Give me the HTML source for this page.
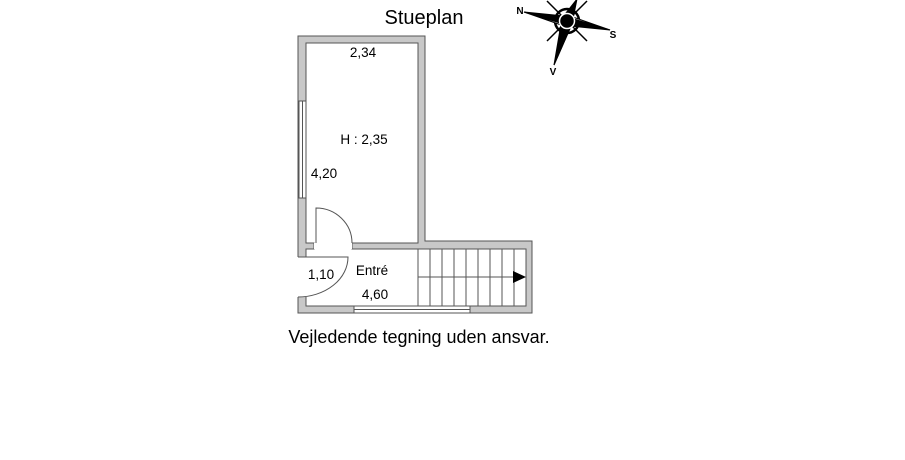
<!DOCTYPE html>
<html><head><meta charset="utf-8"><style>
html,body{margin:0;padding:0;background:#fff;}
svg{display:block;}
text{font-family:"Liberation Sans",Arial,sans-serif;fill:#000;}
</style></head><body>
<svg width="905" height="460" viewBox="0 0 905 460" xmlns="http://www.w3.org/2000/svg">
<text x="424" y="24" font-size="20" text-anchor="middle">Stueplan</text>
<path d="M298,36 H425 V241 H532 V313 H298 Z M306,43 V243 H314 V249 H306 V306 H526 V249 H352 V243 H418 V43 Z" fill="#c8c8c8" fill-rule="evenodd" stroke="#555" stroke-width="1"/>
<rect x="314" y="243" width="38" height="6" fill="#fff"/>
<rect x="297.5" y="257" width="9" height="40" fill="#fff"/>
<rect x="299" y="101" width="7" height="97" fill="#fff" stroke="#555"/>
<line x1="302.5" y1="101" x2="302.5" y2="198" stroke="#555"/>
<rect x="354" y="306" width="116" height="7" fill="#fff" stroke="#555"/>
<line x1="354" y1="309.5" x2="470" y2="309.5" stroke="#555"/>
<path d="M316,243 V208 A36,35 0 0 1 352,243" fill="none" stroke="#555"/>
<path d="M298,257 H348 A50,40 0 0 1 298,297" fill="none" stroke="#555"/>
<g stroke="#555" stroke-width="1">
<line x1="418" y1="249" x2="418" y2="306"/>
<line x1="430" y1="249" x2="430" y2="306"/>
<line x1="442" y1="249" x2="442" y2="306"/>
<line x1="454" y1="249" x2="454" y2="306"/>
<line x1="466" y1="249" x2="466" y2="306"/>
<line x1="478" y1="249" x2="478" y2="306"/>
<line x1="490" y1="249" x2="490" y2="306"/>
<line x1="502" y1="249" x2="502" y2="306"/>
<line x1="514" y1="249" x2="514" y2="306"/>
<line x1="418" y1="277" x2="514" y2="277"/>
</g>
<path d="M513,271 L526,277 L513,283 Z" fill="#000"/>
<g font-size="13.5">
<text x="363" y="57" text-anchor="middle">2,34</text>
<text x="364" y="144" text-anchor="middle">H : 2,35</text>
<text x="324" y="178" text-anchor="middle">4,20</text>
<text x="321" y="279" text-anchor="middle">1,10</text>
<text x="372" y="275" text-anchor="middle">Entré</text>
<text x="375" y="299" text-anchor="middle">4,60</text>
</g>
<text x="419" y="343" font-size="18" text-anchor="middle">Vejledende tegning uden ansvar.</text>
<g transform="translate(567,21)">
<circle r="12" fill="none" stroke="#000" stroke-width="2.5"/>
<g stroke="#000" stroke-width="1.5">
<line x1="-20" y1="-20" x2="20" y2="20"/>
<line x1="20" y1="-20" x2="-20" y2="20"/>
</g>
<path d="M-43,-9 L-3,-5 L3,5 Z" fill="#000" stroke="#000"/>
<path d="M-43,-9 L3,5 L-3,5 Z" fill="#fff" stroke="#000"/>
<path d="M43,9 L3,5 L-3,-5 Z" fill="#000" stroke="#000"/>
<path d="M43,9 L-3,-5 L3,-5 Z" fill="#fff" stroke="#000"/>
<path d="M-13,44 L-5,-3 L5,3 Z" fill="#000" stroke="#000"/>
<path d="M-13,44 L5,3 L3,6 Z" fill="#fff" stroke="#000"/>
<path d="M10,-22 L5,3 L-5,-3 Z" fill="#000" stroke="#000"/>
<circle r="6" fill="#000"/>
<circle r="7.5" fill="none" stroke="#fff" stroke-width="1.5"/>
</g>
<text x="520" y="14" font-size="10" text-anchor="middle" font-weight="bold">N</text>
<text x="613" y="38" font-size="10" text-anchor="middle" font-weight="bold">S</text>
<text x="553" y="75" font-size="10" text-anchor="middle" font-weight="bold">V</text>
</svg>
</body></html>
